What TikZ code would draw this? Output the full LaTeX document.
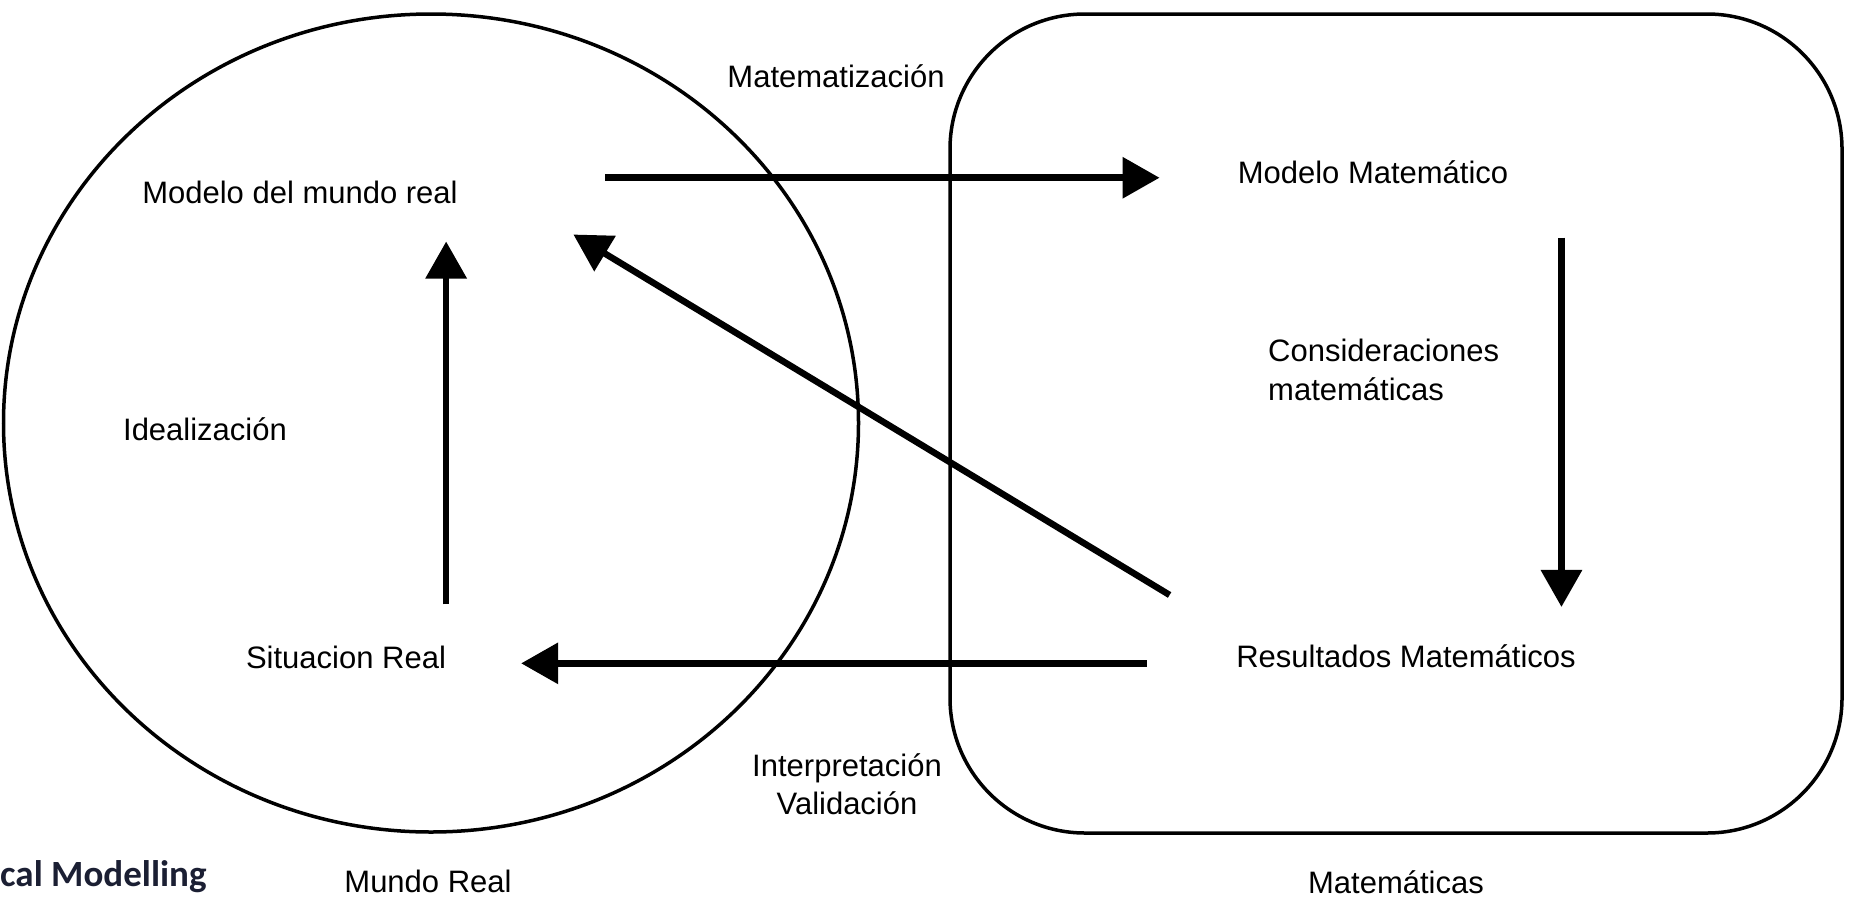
\documentclass[tikz,border=0pt]{standalone}
\usepackage{fontspec}
\setmainfont{Liberation Sans}
\newfontfamily\capfont{Carlito}
\usetikzlibrary{arrows.meta,calc,shapes.geometric}
\definecolor{captionink}{HTML}{1B1F33}
\begin{document}
\begin{tikzpicture}[x=1pt,y=-1pt,
  lbl/.style={font=\fontsize{31}{38.5}\selectfont, inner sep=0pt},
  frame/.style={line width=3.5pt, draw=black},
  flow/.style={line width=6.5pt, -{Triangle[length=37pt,width=40pt]}},
]
\useasboundingbox (0,0) rectangle (1851,897);
\fill[white] (0,0) rectangle (1851,897);

% the two domains
\node[frame, ellipse, minimum width=855pt, minimum height=818pt, inner sep=0pt] (world) at (431,423) {};
\node[frame, rectangle, rounded corners=135pt, minimum width=892pt, minimum height=819pt] (maths) at (1396,423.5) {};

% stages of the cycle
\node[lbl, anchor=base] (realmodel) at (300,203) {Modelo del mundo real};
\node[lbl, anchor=base] (mathmodel) at (1373,183) {Modelo Matemático};
\node[lbl, anchor=base] (situation) at (346,668) {Situacion Real};
\node[lbl, anchor=base] (results) at (1406,667) {Resultados Matemáticos};

% process labels
\node[lbl, anchor=base] (mathz) at (836,87) {Matematización};
\node[lbl, anchor=base] (ideal) at (205,440) {Idealización};
\node[lbl, anchor=north west, align=left] (consid) at (1268,339) {Consideraciones\\matemáticas};
\node[lbl, anchor=north, align=center] (interp) at (847,753) {Interpretación\\Validación};

% domain captions
\node[lbl, anchor=base] (worldcap) at (428,892) {Mundo Real};
\node[lbl, anchor=base] (mathscap) at (1396,893) {Matemáticas};
\node[inner sep=0pt, anchor=base west, font=\capfont\bfseries\fontsize{37}{40}\selectfont, text=captionink] (title) at (0,886) {cal Modelling};

% arrows between the stages
\draw[flow] ($(realmodel.east |- mathmodel.west)+(147.5,6)$) -- ($(mathmodel.west)+(-78,6)$);
\draw[flow] ($(situation.north east)+(0,-41)$) -- ($(situation.north east |- realmodel.south)+(0,38)$);
\draw[flow] ($(results.north west)+(-66.5,-49)$) -- ($(realmodel.south east)+(115.5,31)$);
\draw[flow] ($(mathmodel.south east)+(53,54)$) -- ($(mathmodel.south east |- results.north)+(53,-37)$);
\draw[flow] ($(results.west)+(-89.5,7.6)$) -- ($(situation.east |- results.west)+(75,7.6)$);
\end{tikzpicture}
\end{document}
